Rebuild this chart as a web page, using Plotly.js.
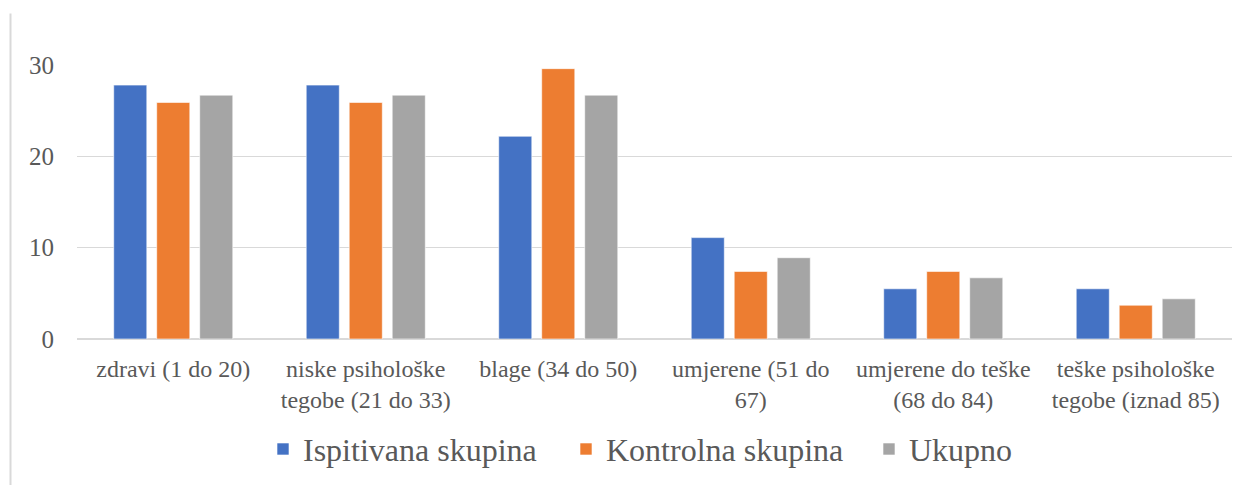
<!DOCTYPE html>
<html>
<head>
<meta charset="utf-8">
<script src="https://cdn.plot.ly/plotly-3.0.1.min.js"></script>
<style>
html,body{margin:0;padding:0;background:#fff;}
#chart{width:1248px;height:488px;}
</style>
</head>
<body>
<div id="chart"></div>
<script>
const categories = [
  "zdravi (1 do 20)",
  "niske psihološke<br>tegobe (21 do 33)",
  "blage (34 do 50)",
  "umjerene (51 do<br>67)",
  "umjerene do teške<br>(68 do 84)",
  "teške psihološke<br>tegobe (iznad 85)"
];
const seriesNames = ["Ispitivana skupina", "Kontrolna skupina", "Ukupno"];
const ispitivana = [27.8, 27.8, 22.2, 11.1, 5.5, 5.5];
const kontrolna = [25.9, 25.9, 29.6, 7.4, 7.4, 3.7];
const ukupno = [26.7, 26.7, 26.7, 8.9, 6.7, 4.4];
const yTicks = [0, 10, 20, 30];

const colors = ["#4472C4", "#ED7D31", "#A5A5A5"];
const values = [ispitivana, kontrolna, ukupno];
const FONT = "Liberation Serif";

const traces = values.map((v, i) => ({
  type: "bar",
  name: seriesNames[i],
  x: categories,
  y: v,
  marker: {color: colors[i], line: {color: "rgba(255,255,255,0.6)", width: 1}}
}));

const W = 1248, H = 488;
const m = {l: 77, r: 16, t: 65, b: 147};
const pw = W - m.l - m.r, ph = H - m.t - m.b;
const px = x => (x - m.l) / pw;
const py = y => (H - m.b - y) / ph;

const layout = {
  width: W, height: H,
  margin: m,
  paper_bgcolor: "#ffffff",
  plot_bgcolor: "#ffffff",
  barmode: "group",
  bargap: 0.33,
  bargroupgap: 0.23,
  showlegend: true,
  font: {family: FONT, size: 24},
  xaxis: {
    type: "category",
    showgrid: false,
    showline: false,
    zeroline: false,
    ticks: "",
    tickfont: {family: FONT, size: 24, color: "#595959"},
    ticklabelstandoff: 13
  },
  yaxis: {
    range: [0, 30],
    tickvals: yTicks,
    showgrid: true,
    gridcolor: "#d9d9d9",
    gridwidth: 1.3,
    zeroline: true,
    zerolinecolor: "#d9d9d9",
    zerolinewidth: 1.3,
    showline: false,
    ticks: "",
    tickfont: {family: FONT, size: 25, color: "#595959"},
    ticklabelstandoff: 22
  },
  legend: {
    orientation: "h",
    x: px(263), xanchor: "left",
    y: py(452), yanchor: "middle",
    entrywidth: 258,
    font: {family: FONT, size: 32, color: "#595959"},
    bgcolor: "rgba(0,0,0,0)"
  },
  shapes: [{
    type: "line", xref: "paper", yref: "paper",
    x0: px(10.5), x1: px(10.5), y0: py(13), y1: py(488),
    line: {color: "#d9d9d9", width: 2}
  }]
};

Plotly.newPlot("chart", traces, layout, {displayModeBar: false, staticPlot: true});
</script>
</body>
</html>
